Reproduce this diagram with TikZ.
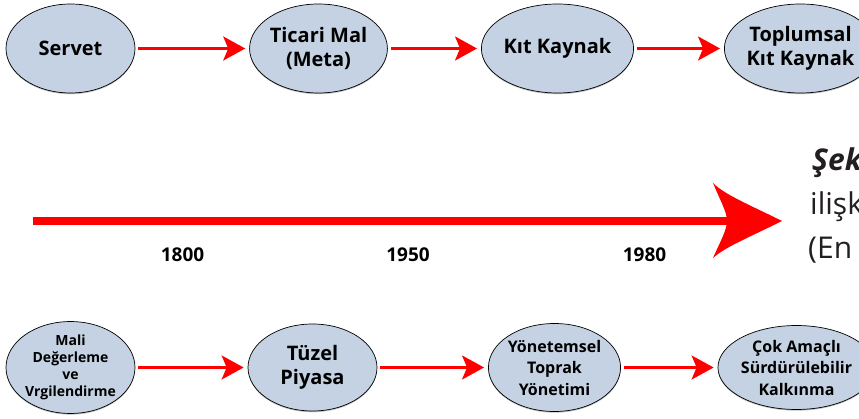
\documentclass[tikz,border=0pt]{standalone}
\usepackage{fontspec}
\setmainfont{Open Sans}
\usetikzlibrary{arrows.meta,shapes.geometric,shadows}
\definecolor{nodefill}{HTML}{C5D2E3}
\definecolor{txt}{HTML}{231F20}
\begin{document}
\begin{tikzpicture}[x=1pt,y=-1pt,
  oval/.style={ellipse, draw=black, line width=0.7pt, fill=nodefill, inner sep=0pt,
    minimum width=129pt, minimum height=89pt, align=center,
    font=\bfseries\fontsize{20}{24}\selectfont, text=black,
    drop shadow={shadow xshift=0pt,shadow yshift=-1.2pt,fill=black!50,opacity=0.5}},
  link/.style={draw=red, line width=2.5pt, -{Stealth[length=22pt,width=24pt,inset=5pt]},
    shorten <=3pt, shorten >=4pt},
  yeartext/.style={font=\bfseries\fontsize{19}{21}\selectfont, text=black},
  captext/.style={anchor=base west, font=\fontsize{30}{36}\selectfont, text=txt, inner sep=0pt}]
\useasboundingbox (0,0) rectangle (859,419);
\clip (0,0) rectangle (859,419);

% top row
\node[oval] (servet) at (70.5,48.5) {Servet};
\node[oval] (ticari) at (318.5,48.5) {Ticari Mal\\(Meta)};
\node[oval] (kit) at (557.5,48.5) {Kıt Kaynak};
\node[oval] (toplumsal) at (800.5,48.5) {Toplumsal\\Kıt Kaynak};
\draw[link] (servet) -- (ticari);
\draw[link] (ticari) -- (kit);
\draw[link] (kit) -- (toplumsal);

% bottom row
\node[oval, minimum height=83pt, font=\bfseries\fontsize{14}{17}\selectfont] (mali) at (70.5,367.5) {Mali\\Değerleme\\ve\\Vrgilendirme};
\node[oval, minimum height=87pt] (tuzel) at (312.5,367.5) {Tüzel\\Piyasa};
\node[oval, minimum width=131pt, minimum height=88pt, font=\bfseries\fontsize{16}{21.5}\selectfont] (yonetemsel) at (554.5,367.5) {Yönetemsel\\Toprak\\Yönetimi};
\node[oval, minimum height=84pt, font=\bfseries\fontsize{16}{21.5}\selectfont] (cok) at (796.5,367.5) {Çok Amaçlı\\Sürdürülebilir\\Kalkınma};
\draw[link] (mali) -- (tuzel);
\draw[link] (tuzel) -- (yonetemsel);
\draw[link] (yonetemsel) -- (cok);

% timeline
\coordinate (tl0) at (33,221);
\coordinate (tl1) at (730,221);
\coordinate (tip) at (782,221);
\coordinate (backtop) at (713,183);
\coordinate (notch) at (727,221);
\coordinate (backbot) at (713,258);
\draw[red, line width=8.5pt] (tl0) -- (tl1);
\fill[red] (tip) .. controls (750,205) and (725,195) .. (backtop)
  .. controls (720,200) and (727,212) .. (notch)
  .. controls (727,230) and (720,242) .. (backbot)
  .. controls (725,247) and (750,237) .. (tip) -- cycle;

\node[yeartext] (y1800) at (182.5,255) {1800};
\node[yeartext] (y1950) at (408,255) {1950};
\node[yeartext] (y1980) at (644.5,255) {1980};

% caption (cut off at the right edge)
\node[captext] (c1) at (812,171) {\bfseries\itshape Şek};
\node[captext] (c2) at (810,214.5) {ilişk};
\node[captext] (c3) at (808,258.5) {(En};
\end{tikzpicture}
\end{document}
